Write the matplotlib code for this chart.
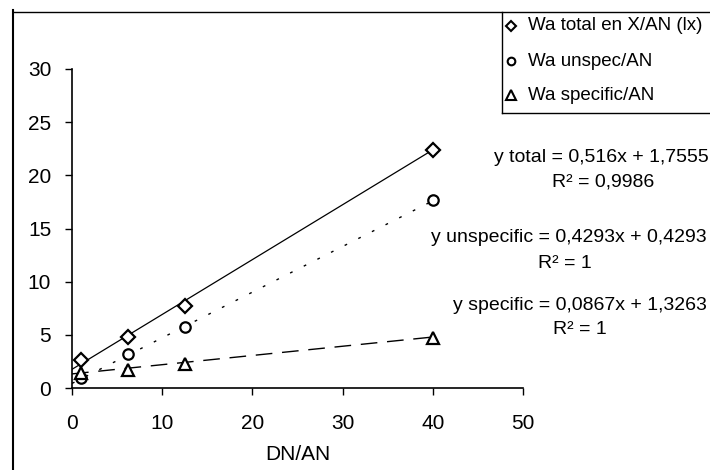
import matplotlib
matplotlib.use("Agg")
import matplotlib.pyplot as plt
from matplotlib.lines import Line2D
import numpy as np

plt.rcParams['font.family'] = ['Liberation Sans', 'DejaVu Sans']

# Ratio DN/AN and measured Wa values
dn_an = [1, 6.25, 12.5, 40]
wa_total = [2.6, 4.8, 7.7, 22.4]
wa_unspec = [0.9, 3.2, 5.7, 17.7]
wa_specific = [1.45, 1.7, 2.25, 4.7]

# Linear trendline coefficients (slope, intercept)
fit_total = (0.516, 1.7555)
fit_unspec = (0.4293, 0.4293)
fit_specific = (0.0867, 1.3263)

legend_labels = ["Wa total en X/AN (lx)", "Wa unspec/AN", "Wa specific/AN"]
eq_labels = ["y total = 0,516x + 1,7555", "R² = 0,9986",
             "y unspecific = 0,4293x + 0,4293", "R² = 1",
             "y specific = 0,0867x + 1,3263", "R² = 1"]

W, H = 710, 470
fig = plt.figure(figsize=(W / 100, H / 100), dpi=100)

def px(x, y):
    return x / W, 1 - y / H

x0, y0 = px(72, 388)
x1, y1 = px(523, 69)
ax = fig.add_axes([x0, y0, x1 - x0, y1 - y0])

ax.set_xlim(0, 50)
ax.set_ylim(0, 30)
for s in ("top", "right"):
    ax.spines[s].set_visible(False)
for s in ("left", "bottom"):
    ax.spines[s].set_linewidth(1.2)
ax.set_xticks([0, 10, 20, 30, 40, 50])
ax.set_yticks([0, 5, 10, 15, 20, 25, 30])
ax.tick_params(axis='both', labelsize=15, length=5, width=1.0, color='black')
ax.tick_params(axis='x', pad=14)
ax.tick_params(axis='y', pad=10)
ax.set_xlabel("DN/AN", fontsize=15, labelpad=8)

xs = np.array([0, 40])
ax.plot(xs, fit_total[0] * xs + fit_total[1], color='black', lw=0.9, ls='-', zorder=2)
ax.plot(xs, fit_unspec[0] * xs + fit_unspec[1], color='black', lw=1.0,
        ls=(0, (2, 9)), zorder=2)
ax.plot(xs, fit_specific[0] * xs + fit_specific[1], color='black', lw=1.0,
        ls=(0, (12, 7)), zorder=2)

mk = dict(mfc='white', mec='black', mew=1.6, ls='none', zorder=3, clip_on=False)
ax.plot(dn_an, wa_total, marker='D', ms=7, **mk)
ax.plot(dn_an, wa_unspec, marker='o', ms=7.5, **mk)
ax.plot(dn_an, wa_specific, marker='^', ms=9, **mk)

# Equations and R² values
eq_pos = [(601, 157), (603, 182), (569, 237), (565, 263), (580, 305), (580, 330)]
for (ex, ey), t in zip(eq_pos, eq_labels):
    fx, fy = px(ex, ey)
    fig.text(fx, fy, t, ha='center', va='center', fontsize=14)

# Outer frame lines
fig.add_artist(Line2D([13 / W, 13 / W], [0, 1 - 10 / H], color='black', lw=1.5,
                      transform=fig.transFigure))
fig.add_artist(Line2D([13 / W, 1], [1 - 12 / H, 1 - 12 / H], color='black', lw=1.0,
                      transform=fig.transFigure))

# Legend box
fig.add_artist(Line2D([502 / W, 502 / W], [1 - 12 / H, 1 - 113 / H], color='black',
                      lw=1.0, transform=fig.transFigure))
fig.add_artist(Line2D([502 / W, 1], [1 - 113 / H, 1 - 113 / H], color='black',
                      lw=1.0, transform=fig.transFigure))
leg_markers = [('D', 5), ('o', 5.5), ('^', 6.5)]
leg_y = [26, 61, 95]
for (m, s), ly, lab in zip(leg_markers, leg_y, legend_labels):
    fx, fy = px(511, ly)
    fig.add_artist(Line2D([fx], [fy], marker=m, ms=s, mfc='white', mec='black',
                          mew=1.5, ls='none', transform=fig.transFigure))
    tx, ty = px(528, ly)
    fig.text(tx, ty, lab, ha='left', va='center', fontsize=13.5)

fig.savefig("out.png", dpi=100)
